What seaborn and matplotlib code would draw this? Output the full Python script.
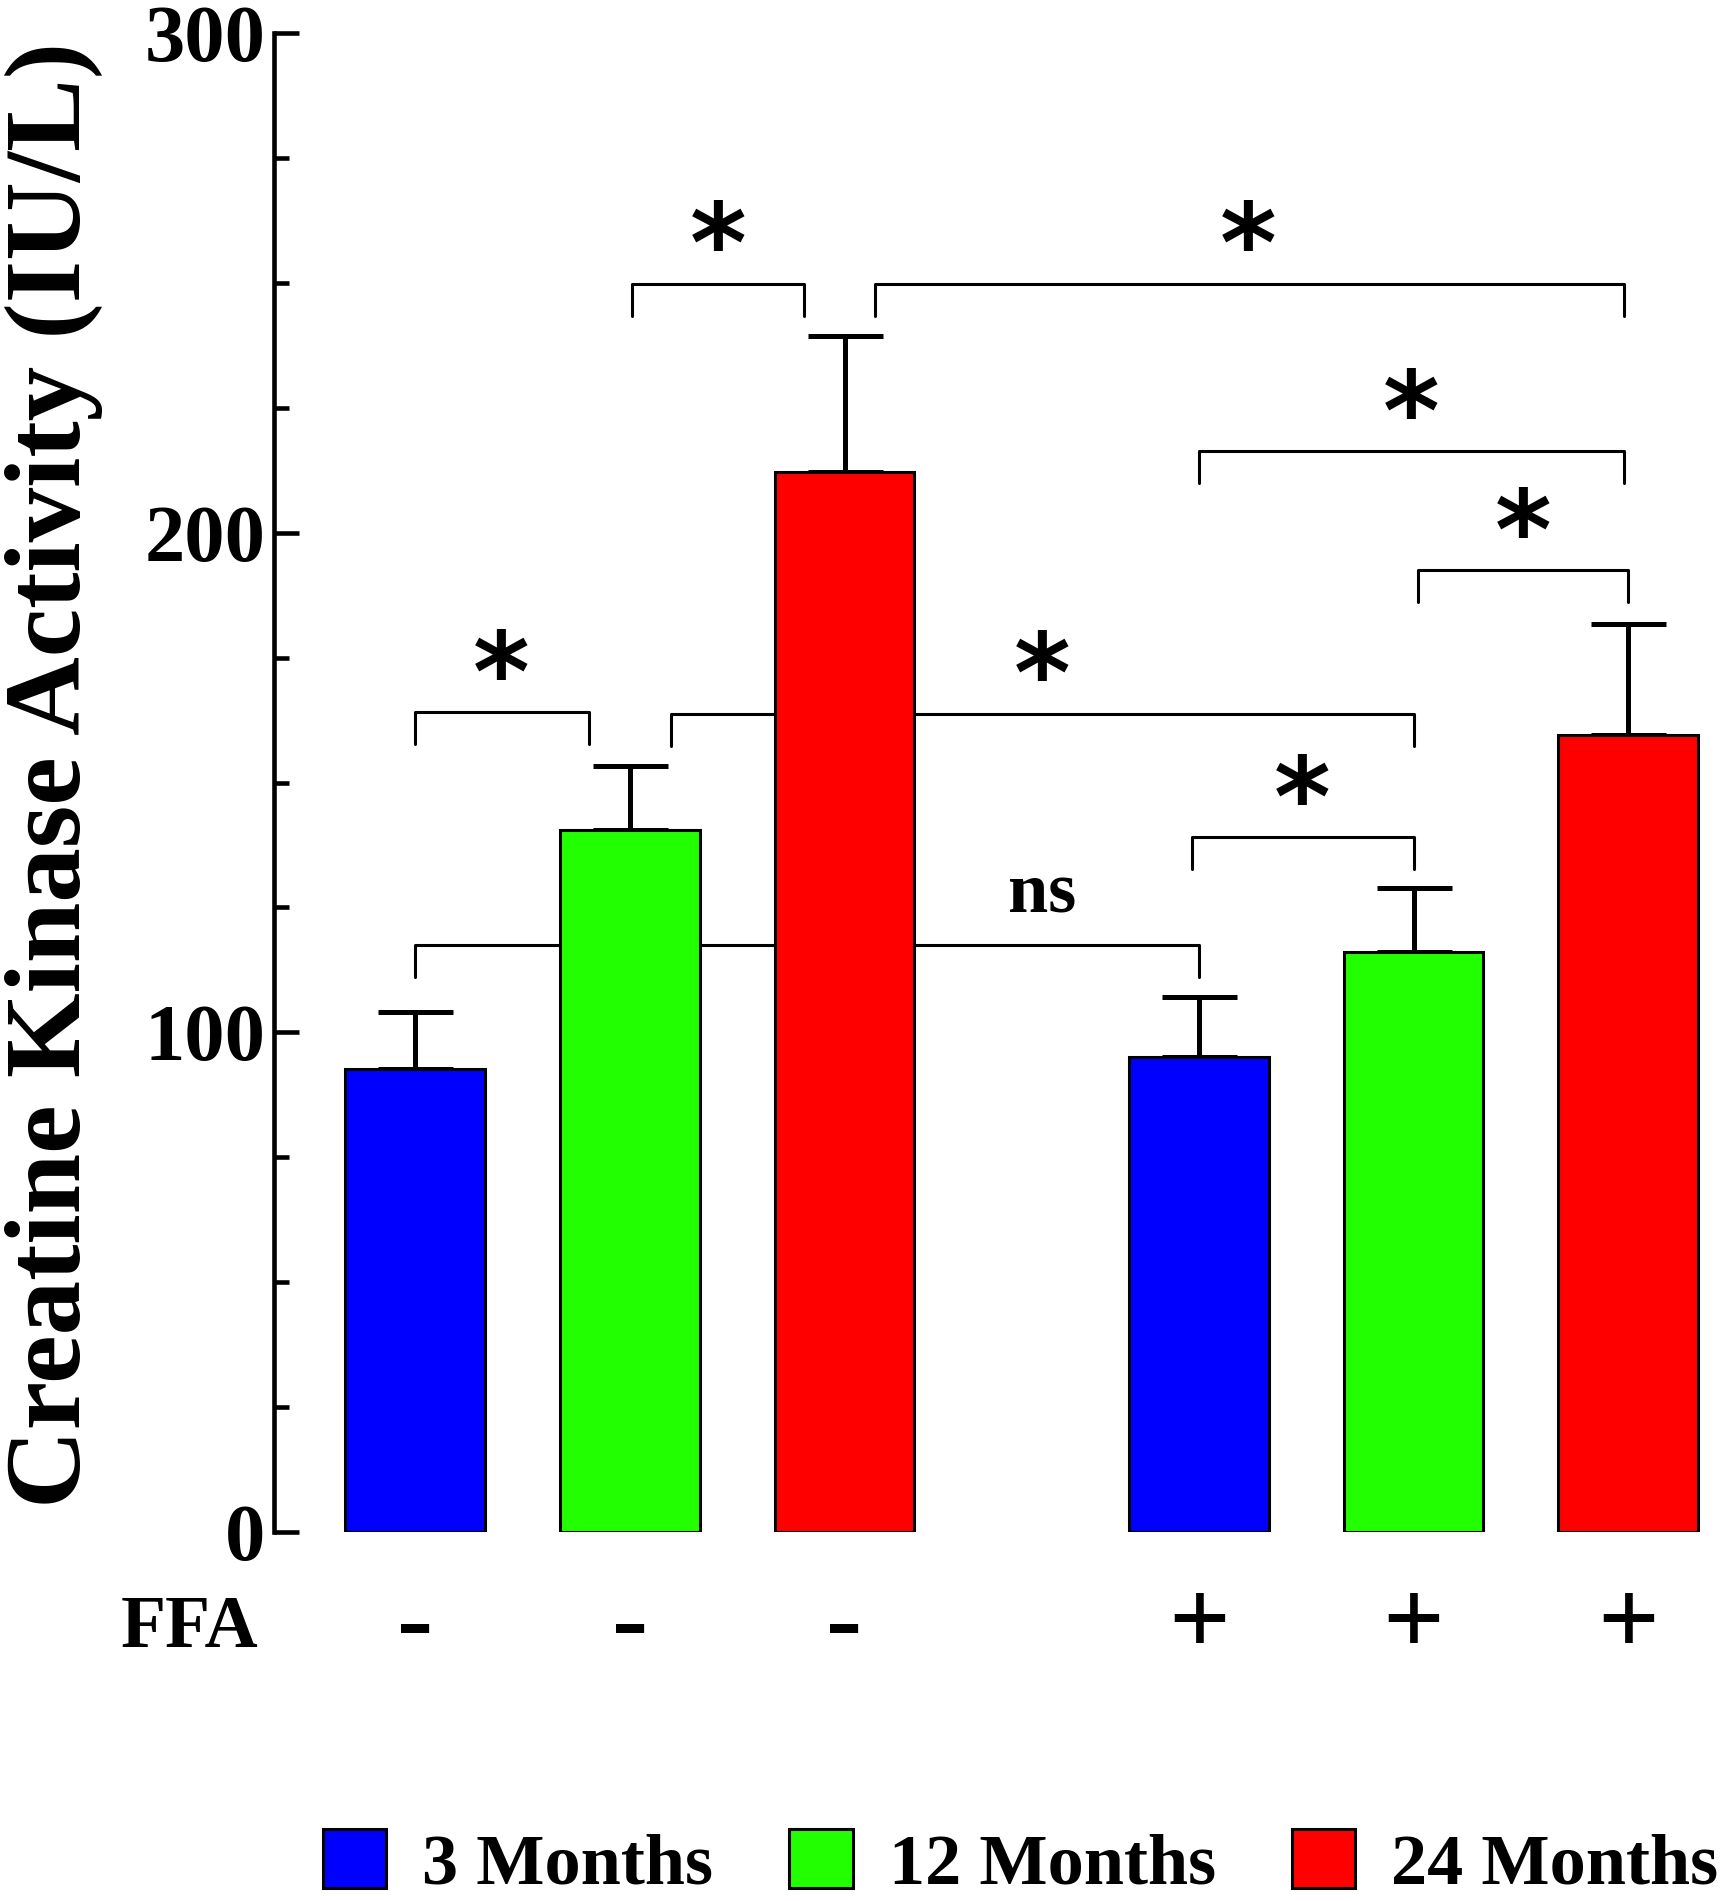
import numpy as np
import pandas as pd
import matplotlib
matplotlib.use("Agg")
import matplotlib.pyplot as plt
import seaborn as sns

# values (IU/L)
groups = ["3 Months", "12 Months", "24 Months", "3 Months", "12 Months", "24 Months"]
ffa = ["-", "-", "-", "+", "+", "+"]
means = [92.7, 140.5, 212.1, 95.1, 116.0, 159.5]
sems = [11.4, 12.9, 27.2, 11.9, 12.9, 22.3]
palette = {"3 Months": "#0000FF", "12 Months": "#22FF00", "24 Months": "#FF0000"}

# significance brackets: (left, right, height, label, label x)
brackets = [
    (0.0, 0.81, 164.1, "*", 0.40),
    (1.19, 4.65, 163.8, "*", 2.92),
    (0.0, 3.65, 117.5, "ns", 2.92),
    (1.01, 1.81, 249.8, "*", 1.41),
    (2.14, 5.63, 249.8, "*", 3.88),
    (3.65, 5.63, 216.3, "*", 4.64),
    (4.67, 5.65, 192.5, "*", 5.16),
    (3.62, 4.65, 139.1, "*", 4.13),
]

sns.set_style("white")
plt.rcParams["font.family"] = ["Liberation Serif", "DejaVu Serif"]
plt.rcParams["font.weight"] = "bold"
plt.rcParams["text.color"] = "black"
plt.rcParams["axes.labelcolor"] = "black"
plt.rcParams["xtick.color"] = "black"
plt.rcParams["ytick.color"] = "black"

df = pd.DataFrame({"group": groups, "ffa": ffa, "mean": means, "sem": sems})
df["pos"] = np.arange(len(df)) + np.where(df["ffa"] == "+", 0.65, 0.0)

fig = plt.figure(figsize=(17.27, 19.01), dpi=100)
ax = fig.add_axes([0.1587, 0.1941, 1 - 0.1587, 0.7885])

sns.barplot(data=df, x="pos", y="mean", hue="group", palette=palette,
            hue_order=["3 Months", "12 Months", "24 Months"],
            native_scale=True, dodge=False, width=0.65, errorbar=None,
            saturation=1, edgecolor="black", linewidth=2.2, zorder=3, ax=ax)

ax.errorbar(df["pos"], df["mean"], yerr=[np.zeros(len(df)), df["sem"]],
            fmt="none", ecolor="black", elinewidth=3.6, capsize=27,
            capthick=3.6, zorder=2)

for x1, x2, y, lab, tx in brackets:
    leg = 6.4
    ax.plot([x1, x1, x2, x2], [y - leg, y, y, y - leg], color="black",
            lw=2.2, zorder=1, solid_capstyle="round")
    if lab == "*":
        ax.text(tx, y + 0.5, "*", ha="center", va="baseline", zorder=5,
                fontsize=78, fontweight="bold", family="DejaVu Sans")
    else:
        ax.text(tx, y + 6.5, lab, ha="center", va="baseline", zorder=5,
                fontsize=52, fontweight="bold")

ax.set_xlim(-0.657, 6.11)
ax.set_ylim(0, 300)
ax.set_yticks([0, 100, 200, 300])
ax.set_yticks(np.arange(0, 301, 25), minor=True)
ax.set_yticklabels(["0", "100", "200", "300"], fontsize=58, fontweight="bold")
ax.tick_params(axis="y", which="major", direction="in", length=18, width=3.3,
               pad=6, left=True)
ax.tick_params(axis="y", which="minor", direction="in", length=11, width=3.3,
               left=True)
ax.set_xticks(df["pos"])
ax.set_xticklabels(df["ffa"], fontsize=78, fontweight="bold")
ax.tick_params(axis="x", length=0, pad=34)

for s in ["top", "right", "bottom"]:
    ax.spines[s].set_visible(False)
ax.spines["left"].set_linewidth(3.3)
ax.spines["left"].set_color("black")

ax.set_xlabel("")
ax.set_ylabel("Creatine Kinase Activity (IU/L)", fontsize=78.5, fontweight="bold")
ax.yaxis.set_label_coords(-0.118, 0.505)

fig.text(0.070, 0.1336, "FFA", fontsize=53, fontweight="bold", ha="left",
         va="baseline")

handles, labels = ax.get_legend_handles_labels()
ax.get_legend().remove()
fig.legend(handles, labels, loc="center", bbox_to_anchor=(0.591, 0.0195),
           ncol=3, frameon=False, prop={"size": 52, "weight": "bold"},
           handlelength=0.88, handleheight=0.88, handletextpad=0.5,
           columnspacing=1.05)

fig.savefig("out.png", dpi=100, facecolor="white")
